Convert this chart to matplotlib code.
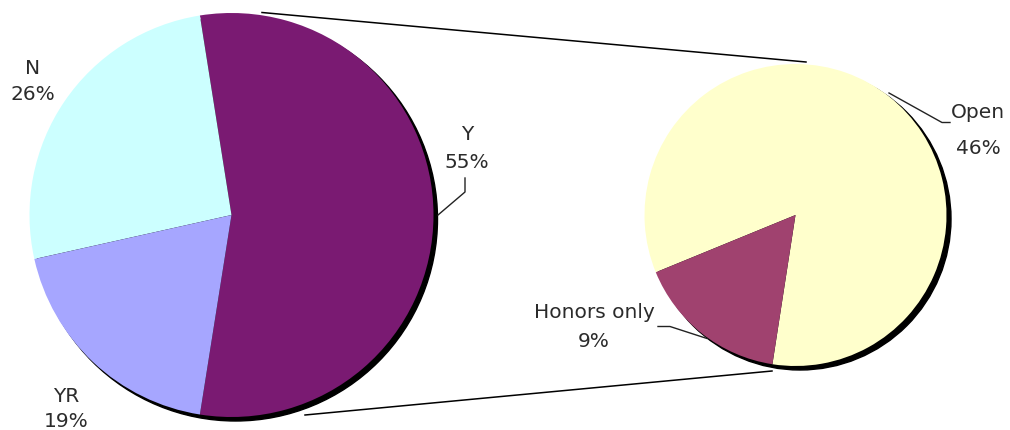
import matplotlib
matplotlib.use("Agg")
import matplotlib.pyplot as plt
from matplotlib.patches import Circle

# ---------------------------------------------------------------------------
# Data
# ---------------------------------------------------------------------------
main_labels = ["Y", "N", "YR"]
main_pct = [55, 26, 19]
main_colors = ["#7A1A72", "#CCFFFF", "#A6A6FF"]

sub_labels = ["Open", "Honors only"]
sub_pct = [46, 9]
sub_colors = ["#FFFFCC", "#A0426F"]

W, H = 1010, 431


def fy(y):
    # image row -> data y (axis grows upwards)
    return H - y


fig = plt.figure(figsize=(W / 100, H / 100), dpi=100)
ax = fig.add_axes([0, 0, 1, 1])

txt = dict(fontsize=14.5, color="#2b2b2b", ha="center", va="center",
           family="DejaVu Sans")

# --- main pie --------------------------------------------------------------
mc = (231.5, fy(216))
mr = 202
ax.add_patch(Circle((mc[0] + 4, mc[1] - 4), mr, color="black", zorder=1))
ax.pie(main_pct, colors=main_colors, startangle=-180 * main_pct[0] / 100,
       radius=mr, center=mc, wedgeprops=dict(linewidth=0, zorder=2),
       frame=True)

# --- secondary pie ---------------------------------------------------------
sc = (795.5, fy(216))
sr = 151
ax.add_patch(Circle((sc[0] + 4.5, sc[1] - 4), sr, color="black", zorder=1))
ax.pie(sub_pct, colors=sub_colors, startangle=202.3, counterclock=False,
       radius=sr, center=sc, wedgeprops=dict(linewidth=0, zorder=2),
       frame=True)

# series lines between the pies (behind the wedges)
ax.plot([262, 806], [fy(13.5), fy(63)], color="black", lw=1.1, zorder=0.5)
ax.plot([305, 772], [fy(416), fy(372)], color="black", lw=1.1, zorder=0.5)

# --- labels ----------------------------------------------------------------
label_pos = {
    "Y": (467, 135, 163),
    "N": (32.5, 68, 95),
    "YR": (66.5, 396.5, 422),
    "Open": (978, 112, 148),
    "Honors only": (594, 313, 341.5),
}
for name, pct in zip(main_labels + sub_labels, main_pct + sub_pct):
    x, y1, y2 = label_pos[name]
    ax.text(x, fy(y1), name, **txt, zorder=5)
    ax.text(x, fy(y2), f"{pct}%", **txt, zorder=5)

# leader lines
leader = dict(color="#222222", lw=1.0, zorder=4)
ax.plot([465, 465, 438], [fy(179), fy(193), fy(216)], **leader)
ax.plot([950, 942, 889], [fy(123.5), fy(123.5), fy(94)], **leader)
ax.plot([658, 670, 707], [fy(327.5), fy(327.5), fy(339.5)], **leader)

ax.set_xlim(0, W)
ax.set_ylim(0, H)
ax.set_aspect("equal")
ax.axis("off")

fig.savefig("out.png", dpi=100, facecolor="white")
